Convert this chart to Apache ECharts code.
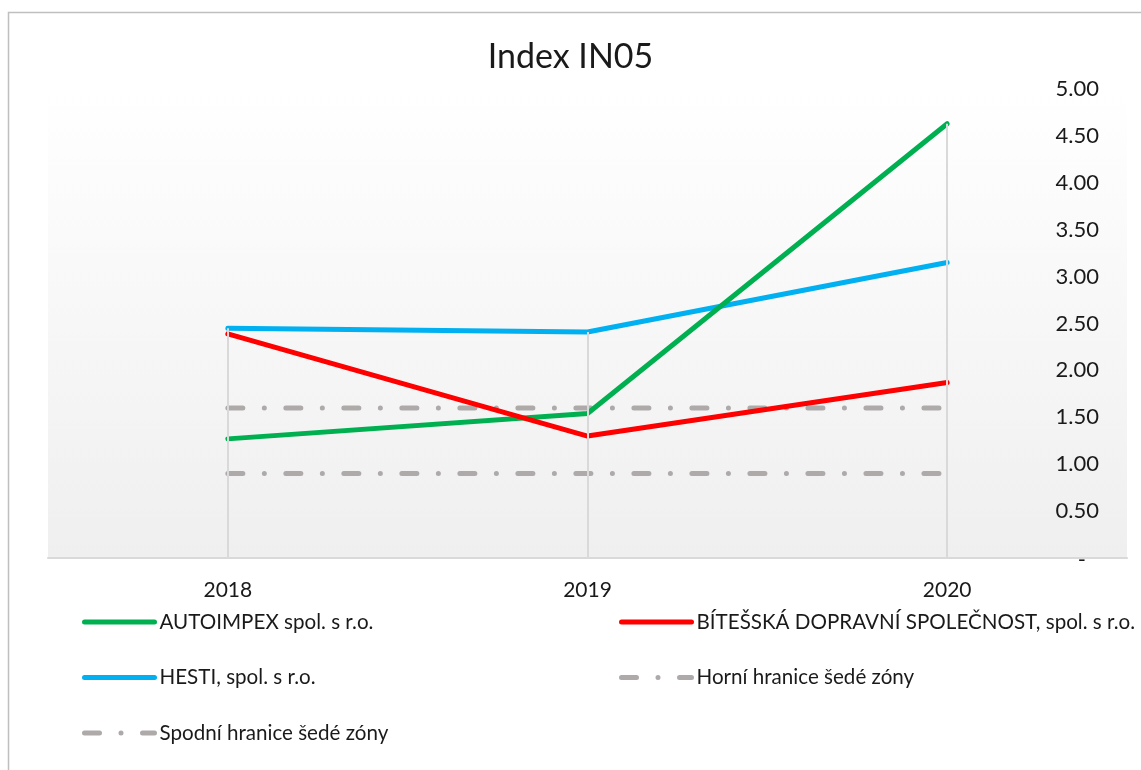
<!DOCTYPE html>
<html lang="cs">
<head>
    <meta charset="UTF-8">
    <title>Index IN05</title>
    <script src="https://cdn.jsdelivr.net/npm/echarts@6/dist/echarts.min.js"></script>
    <style type="text/css">
        html, body{
            margin: 0;
            padding: 0;
            background: #fff;
        }
        #main{
            width: 1141px;
            height: 770px;
        }
    </style>
</head>
<body>
    <div id="main"></div>
    <script>
        // data
        var years = ['2018', '2019', '2020'];
        var autoimpex = [1.27, 1.54, 4.63];
        var bitesska = [2.39, 1.30, 1.87];
        var hesti = [2.45, 2.41, 3.15];
        var upperZone = [1.60, 1.60, 1.60];
        var lowerZone = [0.90, 0.90, 0.90];
        var yTicks = [0, 0.5, 1, 1.5, 2, 2.5, 3, 3.5, 4, 4.5, 5];

        var names = [
            'AUTOIMPEX spol. s r.o.',
            'BÍTEŠSKÁ DOPRAVNÍ SPOLEČNOST, spol. s r.o.',
            'HESTI, spol. s r.o.',
            'Horní hranice šedé zóny',
            'Spodní hranice šedé zóny'
        ];

        var font = 'Lato, "Noto Sans", sans-serif';
        var textColor = '#1a1a1a';

        // drop lines: from the highest point of each year down to the axis
        var dropLines = years.map(function (y, i) {
            var top = Math.max(autoimpex[i], bitesska[i], hesti[i], upperZone[i], lowerZone[i]);
            return [{coord: [i, top]}, {coord: [i, 0]}];
        });

        var dashDot = [15, 21.5, 0.01, 21.5];

        var myChart = echarts.init(document.getElementById('main'));
        var legendCommon = {
            orient: 'vertical',
            top: 610,
            padding: 0,
            itemWidth: 70,
            itemHeight: 14,
            itemGap: 31.5,
            selectedMode: false,
            textStyle: {
                fontFamily: font,
                fontSize: 20.6,
                lineHeight: 24,
                color: textColor
            },
            itemStyle: {opacity: 0}, // hide the little circle, keep the line
            lineStyle: {
                width: 5,
                cap: 'round'
            }
        };

        var option = {
            animation: false,
            backgroundColor: '#fff',
            title: {
                text: 'Index IN05',
                left: 'center',
                top: 40,
                padding: 0,
                textStyle: {
                    fontFamily: font,
                    fontSize: 34,
                    fontWeight: 'normal',
                    color: textColor
                }
            },
            graphic: [{
                type: 'rect',
                shape: {x: 8.5, y: 12.5, width: 1160, height: 790},
                style: {fill: 'none', stroke: '#bfbfbf', lineWidth: 1.5},
                silent: true
            }],
            legend: [
                Object.assign({}, legendCommon, {
                    left: 82,
                    data: [names[0], names[2], names[4]]
                }),
                Object.assign({}, legendCommon, {
                    left: 619,
                    data: [names[1], names[3]]
                })
            ],
            grid: {
                left: 48,
                right: 14,
                top: 89,
                bottom: 212,
                show: true,
                borderWidth: 0,
                backgroundColor: new echarts.graphic.LinearGradient(0, 0, 0, 1, [
                    {offset: 0, color: '#ffffff'},
                    {offset: 1, color: '#efefef'}
                ])
            },
            xAxis: {
                type: 'category',
                data: years,
                boundaryGap: true,
                axisLine: {
                    lineStyle: {color: '#d9d9d9', width: 2}
                },
                axisTick: {show: false},
                splitLine: {show: false},
                axisLabel: {
                    fontFamily: font,
                    fontSize: 21,
                    color: textColor,
                    margin: 22
                }
            },
            yAxis: {
                type: 'value',
                position: 'right',
                min: yTicks[0],
                max: yTicks[yTicks.length - 1],
                interval: yTicks[1] - yTicks[0],
                axisLine: {show: false},
                axisTick: {show: false},
                splitLine: {show: false},
                axisLabel: {
                    inside: true,
                    margin: 28,
                    fontFamily: font,
                    fontSize: 22,
                    color: textColor,
                    formatter: function (v) {
                        return v === 0 ? '{z|-}' : v.toFixed(2);
                    },
                    rich: {
                        z: {
                            fontFamily: font,
                            fontSize: 22,
                            color: textColor,
                            padding: [4, 13, 0, 0]
                        }
                    }
                }
            },
            series: [
                {
                    name: 'drop',
                    type: 'line',
                    data: [],
                    z: 0,
                    silent: true,
                    markLine: {
                        silent: true,
                        symbol: 'none',
                        label: {show: false},
                        lineStyle: {color: '#d9d9d9', width: 2, type: 'solid'},
                        data: dropLines
                    }
                },
                {
                    name: names[3],
                    type: 'line',
                    data: upperZone,
                    symbol: 'none',
                    z: 1,
                    lineStyle: {color: '#aeaaaa', width: 5, type: dashDot, cap: 'round'},
                    itemStyle: {color: '#aeaaaa'}
                },
                {
                    name: names[4],
                    type: 'line',
                    data: lowerZone,
                    symbol: 'none',
                    z: 1,
                    lineStyle: {color: '#aeaaaa', width: 5, type: dashDot, cap: 'round'},
                    itemStyle: {color: '#aeaaaa'}
                },
                {
                    name: names[2],
                    type: 'line',
                    data: hesti,
                    symbol: 'none',
                    z: 2,
                    lineStyle: {color: '#00b0f0', width: 5, cap: 'round'},
                    itemStyle: {color: '#00b0f0'}
                },
                {
                    name: names[0],
                    type: 'line',
                    data: autoimpex,
                    symbol: 'none',
                    z: 3,
                    lineStyle: {color: '#00b050', width: 5, cap: 'round'},
                    itemStyle: {color: '#00b050'}
                },
                {
                    name: names[1],
                    type: 'line',
                    data: bitesska,
                    symbol: 'none',
                    z: 4,
                    lineStyle: {color: '#ff0000', width: 5, cap: 'round'},
                    itemStyle: {color: '#ff0000'}
                }
            ]
        };
        myChart.setOption(option);
    </script>
</body>
</html>
